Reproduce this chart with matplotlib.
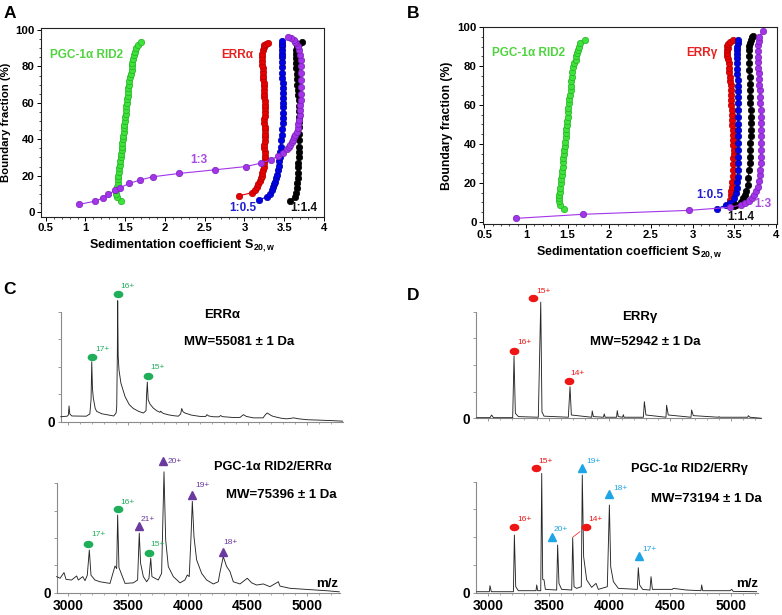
import matplotlib
matplotlib.use('Agg')
import matplotlib.pyplot as plt
import numpy as np
from matplotlib.ticker import MultipleLocator

plt.rcParams['font.family'] = ['Liberation Sans', 'DejaVu Sans']
plt.rcParams['mathtext.default'] = 'regular'

# ---------------- DATA ----------------
# Panel A (ERRalpha) sedimentation distributions
a_green_x = [1.443,1.40,1.385,1.39,1.40,1.405,1.41,1.415,1.42,1.425,1.435,1.44,1.445,1.45,1.455,1.46,1.465,1.47,1.475,1.48,1.485,1.49,1.495,1.50,1.505,1.51,1.515,1.52,1.525,1.53,1.535,1.54,1.545,1.55,1.56,1.575,1.58,1.585,1.59,1.60,1.61,1.62,1.636,1.66,1.70]
a_green_y = [6.2,8.1,10,12,14,16,18,20,22,24,26,28,30,32,34,36,38,40,42,44,46,48,50,52,54,56,58,60,62,64,66,68,70,72,74,76,78,80,82,84,86,88,90,91.8,93.6]

a_red_x = [2.935,3.09,3.13,3.154,3.175,3.19,3.204,3.215,3.225,3.237,3.245,3.25,3.255,3.258,3.255,3.25,3.25,3.252,3.255,3.258,3.258,3.255,3.25,3.25,3.252,3.255,3.258,3.258,3.255,3.25,3.248,3.246,3.243,3.24,3.238,3.237,3.235,3.23,3.225,3.222,3.222,3.225,3.23,3.24,3.25,3.27,3.30]
a_red_y = [9.0,10.6,12.3,13.9,15.5,17,18.5,20,21.5,23,25,27,29,31,33,35,37,39,41,43,45,47,49,51,53,55,57,59,61,63,65,67,69,71,73,75,77,79,81,83,85,87,89,90.5,91.8,92.5,93]

a_blue_x = [3.18,3.28,3.315,3.343,3.36,3.372,3.384,3.395,3.405,3.418,3.428,3.438,3.447,3.452,3.456,3.46,3.466,3.472,3.48,3.483,3.486,3.489,3.489,3.487,3.485,3.482,3.48,3.477,3.473,3.47,3.468,3.468,3.47,3.47,3.472,3.476,3.476]
a_blue_y = [6.6,8.4,10.2,12.1,13.7,15.2,16.7,18.5,20.3,23,25.5,28,30.4,33,36,39.6,42.5,45.5,48.7,51.5,54.5,57.5,59.7,62.5,65.5,68,70.7,73.5,76.5,79.8,82.5,85,87,89,91,92.5,94]

a_black_x = [3.573,3.636,3.652,3.66,3.665,3.67,3.674,3.678,3.678,3.682,3.684,3.686,3.686,3.688,3.69,3.69,3.69,3.688,3.685,3.68,3.676,3.67,3.665,3.66,3.655,3.65,3.648,3.645,3.645,3.645,3.66,3.69,3.72]
a_black_y = [6.2,8.4,10.5,13,15.8,18.5,21.5,24.5,26.8,30,33,36,39.6,43,46.5,49.5,52.4,55.5,58.5,61.5,64.5,67,70,73,76,79,81.7,84.5,87,89,91,92.5,93.6]

a_purple_x = [0.918,1.12,1.224,1.287,1.37,1.44,1.55,1.684,1.85,2.174,2.626,3.015,3.21,3.337,3.42,3.49,3.533,3.555,3.575,3.595,3.61,3.625,3.64,3.655,3.667,3.676,3.684,3.692,3.70,3.703,3.705,3.709,3.713,3.714,3.713,3.71,3.705,3.697,3.684,3.668,3.65,3.635,3.617,3.585,3.546]
a_purple_y = [4.2,6.0,7.9,9.7,11.9,13.5,15.7,17.6,19.4,21.2,23.2,25,26.9,28.7,30.9,32.7,34.7,35.8,36.9,38.3,39.7,41,42.4,44.2,46,48.3,50.6,53.3,56,58.8,61.6,65,68.9,72.5,76.2,80,83.5,86.3,89,91,92.7,93.6,94.5,95.4,96.3]

# Panel B (ERRgamma) sedimentation distributions
b_green_x = [1.46,1.408,1.40,1.40,1.40,1.405,1.41,1.417,1.422,1.428,1.434,1.44,1.445,1.45,1.455,1.46,1.465,1.47,1.475,1.48,1.485,1.49,1.495,1.50,1.505,1.51,1.516,1.52,1.53,1.537,1.54,1.545,1.549,1.552,1.56,1.58,1.60,1.605,1.609,1.62,1.636,1.648,1.708]
b_green_y = [6.7,8.6,10.5,12.3,13.7,15.5,17.5,19.7,21.8,24,26,28.3,30.5,32.7,34.8,36.9,39,41.2,43.3,45.5,47.6,49.8,52,54,56.3,58.5,60.9,63,65.3,67.7,70,72.3,74.6,77,79.7,81.5,83.2,85,86.6,88.3,90,91.8,93.5]

b_red_x = [3.44,3.452,3.46,3.465,3.468,3.475,3.48,3.484,3.488,3.49,3.492,3.492,3.49,3.486,3.483,3.48,3.478,3.475,3.472,3.468,3.466,3.464,3.462,3.46,3.456,3.452,3.448,3.443,3.438,3.432,3.425,3.418,3.412,3.408,3.42,3.41,3.42,3.452,3.48]
b_red_y = [8.6,11.1,13.5,16,18,20.5,23.5,26.6,29.5,32.5,35,36.9,39.5,42,44.7,47.2,49.7,52.2,55,57.5,60,62.5,65,67.8,70.5,72.5,74.6,77,79.3,81.5,83.5,85,86.6,88.3,89.5,90.5,91.5,92.6,93.5]

b_blue_x = [3.288,3.40,3.45,3.48,3.50,3.52,3.53,3.535,3.54,3.544,3.546,3.548,3.548,3.548,3.548,3.548,3.546,3.544,3.542,3.54,3.54,3.54,3.54,3.54,3.537,3.535,3.532,3.532,3.532,3.532,3.535,3.54,3.548]
b_blue_y = [6.5,8.6,9.5,10.3,12.3,14.6,17.5,20.3,23.2,26.5,30,33.4,37,40.5,44,47.2,50.5,54,57.5,60.9,64,67,70,72.9,75.8,78.6,81.5,84,86.2,88.3,90,91.8,93.5]

b_black_x = [3.50,3.52,3.58,3.61,3.628,3.645,3.66,3.67,3.68,3.686,3.69,3.692,3.695,3.698,3.70,3.70,3.698,3.696,3.694,3.692,3.69,3.688,3.684,3.68,3.678,3.675,3.672,3.675,3.685,3.70,3.715,3.728]
b_black_y = [8.2,8.6,10.3,12,13.7,16,18.9,22.5,26.6,30,33.5,36.9,40.5,44,47.2,50.6,54,57.5,61,64.3,67.5,71,74.5,78,81.5,85,88.3,90.5,92,93.5,94.8,95.5]

b_purple_x = [0.88,1.688,2.952,3.452,3.58,3.63,3.672,3.71,3.74,3.765,3.788,3.80,3.808,3.812,3.816,3.818,3.82,3.82,3.82,3.82,3.82,3.818,3.816,3.815,3.812,3.808,3.802,3.796,3.792,3.788,3.784,3.78,3.782,3.788,3.792,3.80,3.848]
b_purple_y = [1.7,3.8,5.8,7.4,8.6,9.7,10.8,12.3,13.7,15.8,18,21,23.8,26.6,30,33.5,36.9,40.5,44,47.2,50.6,54,57.5,61,64.3,67.5,70.5,73.5,76.3,79,82,84.9,87.8,90.9,93,95.2,98.1]

sed_xticks = [0.5, 1, 1.5, 2, 2.5, 3, 3.5, 4]
sed_xticklabels = ['0.5', '1', '1.5', '2', '2.5', '3', '3.5', '4']
sed_yticks = [0, 20, 40, 60, 80, 100]

# Mass spectra (m/z, relative intensity)
c_top_mz = [2936,2990,3000,3006,3012,3030,3150,3180,3190,3196,3202,3209,3225,3237,3280,3321,3380,3400,3405,3410,3413,3417,3424,3440,3475,3510,3544,3590,3628,3650,3655,3661,3668,3683,3710,3739,3767,3772,3795,3840,3878,3920,3940,3949,3960,3976,4030,4102,4150,4160,4175,4213,4260,4275,4290,4381,4437,4455,4465,4490,4548,4630,4650,4665,4700,4716,4780,4828,4870,4884,4930,5000,5107,5200,5295]
c_top_int = [4.5,5.0,6,14.3,7,5.2,5.0,7,20,54.5,30,21.5,12,9.4,7.2,6.4,5.2,8,14,60,110,60,47,35,22.7,15.5,12,9.3,7.9,10,25,36,20,16.1,12.5,10,8.5,9.5,7.5,6.2,5.5,5,7,12,9,7.9,6,4.8,4.8,6.4,5.2,4.5,4.4,5.6,4.6,3.8,3.9,5.5,6.4,4.8,3.5,3.5,6.5,7.9,5.5,4.8,3.2,2.6,3.2,3.5,2.6,1.8,1.4,1.0,0.5]

c_bot_mz = [2903,2931,2964,2981,3028,3070,3084,3121,3140,3159,3176,3190,3223,3265,3349,3391,3405,3413,3424,3438,3475,3544,3580,3594,3605,3628,3656,3675,3690,3700,3753,3781,3801,3815,3837,3879,3935,3976,3996,4012,4026,4038,4052,4074,4116,4158,4213,4255,4269,4297,4325,4353,4381,4437,4498,4535,4576,4632,4688,4758,4772,4856,4995,5162,5268]
c_bot_int = [14.7,13.2,18.4,12.2,11.6,15.3,11.6,14.7,11,16,39,16,11.6,10,8.5,24.4,22,71,23,19,8.5,9,11.6,54.5,27,14.7,10,13.2,31.5,14.7,11.6,17.7,110.5,48.3,23.9,14.7,9,11.6,16.2,14.7,48,83.5,51,30,17.7,11.6,8,10,18.4,33,24,19.4,10,8,13.2,9,7,8,5.5,10,6,4,3,1.8,0.8]

d_top_mz = [2907,3016,3030,3044,3203,3214,3225,3250,3414,3434,3444,3461,3661,3675,3686,3853,3858,3867,3950,3957,3964,4058,4064,4072,4108,4114,4120,4279,4287,4300,4465,4470,4484,4671,4676,4690,4896,4901,4907,5138,5143,5156,5252]
d_top_int = [0.6,0.6,3.1,0.6,0.6,58.4,4.7,1.6,1,109,6,2,1,29.6,3.1,1,6.9,1.6,1,4.1,1,1,7.2,1.6,1,3.4,1,1,15.6,3.1,1,12.2,3.1,1,7.8,2.5,1,1.6,1,1,2.5,1,0]

d_bot_mz = [2907,3011,3016,3027,3209,3217,3228,3250,3395,3401,3409,3434,3442,3450,3461,3472,3565,3573,3584,3606,3689,3697,3708,3730,3768,3776,3787,3812,3853,3889,3908,3982,3999,4010,4032,4073,4229,4237,4248,4273,4333,4342,4353,4517,4525,4635,4753,4759,4767,4992,5006,5019,5211]
d_bot_int = [0.9,0.9,6.3,0.9,0.9,52,5.4,1.8,1.8,7,1.8,1.8,107.5,12,11.6,3,2.4,43,8.4,3,2.4,49.5,5.4,3.9,5.4,106,32.5,11.6,4.8,8.4,3,5.4,79,23.4,10,3.9,3,22.5,7,3,2.4,14.4,3,3,3.9,2.4,1.8,7,1.8,1.8,3,1.2,0.9]

spec_xticks = [3000, 3500, 4000, 4500, 5000]

# Charge-state annotations: m/z, marker height, label, ion kind
c_top_ann_mz = [3413, 3201, 3669]
c_top_ann_y = [116, 58.5, 41.5]
c_top_ann_lab = ['16+', '17+', '15+']
c_top_ann_kind = ['free', 'free', 'free']

c_bot_ann_mz = [3167, 3413, 3594, 3675, 3795, 4033, 4292]
c_bot_ann_y = [44.7, 76.8, 61.2, 36.1, 120.2, 89.6, 37.6]
c_bot_ann_lab = ['17+', '16+', '21+', '15+', '20+', '19+', '18+']
c_bot_ann_kind = ['free', 'free', 'cplx', 'free', 'cplx', 'cplx', 'cplx']

d_top_ann_mz = [3368, 3214, 3667]
d_top_ann_y = [113.1, 63.1, 35]
d_top_ann_lab = ['15+', '16+', '14+']
d_top_ann_kind = ['free', 'free', 'free']

d_bot_ann_mz = [3216, 3393, 3524, 3804, 3776, 3996, 4243]
d_bot_ann_y = [58.9, 112, 50.5, 58.9, 112, 88.6, 33]
d_bot_ann_lab = ['16+', '15+', '20+', '14+', '19+', '18+', '17+']
d_bot_ann_kind = ['free', 'free', 'cplx', 'free', 'cplx', 'cplx', 'cplx']

# ---------------- LAYOUT / STYLE ----------------
W, H = 782, 615
fig = plt.figure(figsize=(W / 100, H / 100), dpi=100)


def add_ax(l, t, r, b):
    return fig.add_axes([l / W, 1 - b / H, (r - l) / W, (b - t) / H])


def ftext(px, py, s, **kw):
    kw.setdefault('ha', 'center')
    kw.setdefault('va', 'center')
    fig.text(px / W, 1 - py / H, s, **kw)


GREEN = '#3ee23a'; GREEN_E = '#22b022'
RED = '#e80000'; RED_E = '#b00000'
BLUE = '#0000e6'; BLUE_E = '#0000a0'
BLACK = '#000000'; BLACK_E = '#000000'
PURPLE = '#a334ea'; PURPLE_E = '#7a22b8'


def sed_panel(ax, series, xlim, ylim, ylab_size):
    for x, y, fc, ec in series:
        ax.plot(x, y, '-', color=fc, lw=0.8, marker='o', ms=4.6,
                mfc=fc, mec=ec, mew=0.5, zorder=3)
    ax.set_xlim(*xlim)
    ax.set_ylim(*ylim)
    ax.set_xticks(sed_xticks)
    ax.set_xticklabels(sed_xticklabels, fontweight='bold', fontsize=8.2)
    ax.set_yticks(sed_yticks)
    ax.set_yticklabels([str(v) for v in sed_yticks], fontweight='bold', fontsize=8.2)
    ax.xaxis.set_minor_locator(MultipleLocator(0.1))
    ax.yaxis.set_minor_locator(MultipleLocator(5))
    ax.tick_params(which='major', direction='out', length=2.8, width=0.7, pad=1.5)
    ax.tick_params(which='minor', direction='out', length=1.4, width=0.5)
    for s in ax.spines.values():
        s.set_linewidth(0.8)
        s.set_color('#222222')
    ax.set_xlabel('Sedimentation coefficient S$_{20,w}$', fontweight='bold',
                  fontsize=9, labelpad=3)
    ax.set_ylabel('Boundary fraction (%)', fontweight='bold', fontsize=ylab_size,
                  labelpad=3)


axA = add_ax(40.7, 28, 324, 217)
sed_panel(axA, [(a_green_x, a_green_y, GREEN, GREEN_E),
                (a_red_x, a_red_y, RED, RED_E),
                (a_blue_x, a_blue_y, BLUE, BLUE_E),
                (a_black_x, a_black_y, BLACK, BLACK_E),
                (a_purple_x, a_purple_y, PURPLE, PURPLE_E)],
          (0.437, 4.0), (-2.7, 101.1), 8.2)

axB = add_ax(482.7, 26.7, 776.7, 224)
sed_panel(axB, [(b_green_x, b_green_y, GREEN, GREEN_E),
                (b_red_x, b_red_y, RED, RED_E),
                (b_blue_x, b_blue_y, BLUE, BLUE_E),
                (b_black_x, b_black_y, BLACK, BLACK_E),
                (b_purple_x, b_purple_y, PURPLE, PURPLE_E)],
          (0.48, 4.01), (-1.2, 100.3), 8.8)

# panel A/B labels
lab_kw = dict(fontweight='bold', fontsize=8.5)
ftext(86.3, 55, 'PGC-1α RID2', color='#4fd43f', **lab_kw)
ftext(237.5, 55, 'ERRα', color='#e82020', **lab_kw)
ftext(199, 160, '1:3', color='#a64ce0', **lab_kw)
ftext(243.3, 208, '1:0.5', color='#2020d0', **lab_kw)
ftext(303.3, 208, '1:1.4', color='#111111', **lab_kw)

ftext(529, 53.3, 'PGC-1α RID2', color='#4fd43f', **lab_kw)
ftext(701.5, 53.3, 'ERRγ', color='#e82020', **lab_kw)
ftext(710, 195, '1:0.5', color='#2020d0', **lab_kw)
ftext(741, 216.7, '1:1.4', color='#111111', **lab_kw)
ftext(762.7, 204, '1:3', color='#a64ce0', **lab_kw)

# panel letters
for px, py, s in [(10, 13, 'A'), (413, 13, 'B'), (10, 290, 'C'), (413, 296, 'D')]:
    ftext(px, py, s, fontweight='bold', fontsize=12.5)

# ---------------- mass spectra ----------------
t = np.linspace(0, 2 * np.pi, 41)
ELLIPSE = np.column_stack([np.cos(t), 0.72 * np.sin(t)])


def spec_panel(ax, mz, inten, xlim, show_labels):
    ax.plot(mz, inten, color='#262626', lw=0.65, clip_on=False, zorder=3)
    ax.set_xlim(*xlim)
    ax.set_ylim(0, 100)
    for s in ['top', 'right']:
        ax.spines[s].set_visible(False)
    for s in ['left', 'bottom']:
        ax.spines[s].set_color('#8a8a8a')
        ax.spines[s].set_linewidth(0.8)
    ax.set_yticks([0, 25, 50, 75, 100])
    ax.set_yticklabels(['0', '', '', '', ''], fontweight='bold', fontsize=9.8)
    ax.set_xticks(spec_xticks)
    ax.xaxis.set_minor_locator(MultipleLocator(100))
    if show_labels:
        ax.set_xticklabels([str(v) for v in spec_xticks], fontweight='bold', fontsize=10)
    else:
        ax.set_xticklabels([])
    ax.tick_params(which='major', direction='out', length=2.2, width=0.6,
                   color='#8a8a8a', pad=2)
    ax.tick_params(which='minor', direction='out', length=1.3, width=0.5,
                   color='#8a8a8a')
    ax.tick_params(axis='y', pad=2)


def annotate_peaks(ax, mzs, ys, labs, kinds, offsets, free_color, cplx_color):
    for m, y, lab, k, (dx, dy) in zip(mzs, ys, labs, kinds, offsets):
        col = free_color if k == 'free' else cplx_color
        if k == 'free':
            ax.plot([m], [y], ls='none', marker=ELLIPSE, ms=6.0, color=col,
                    mec=col, clip_on=False, zorder=5)
        else:
            ax.plot([m], [y], ls='none', marker='^', ms=5.8, color=col,
                    mec=col, clip_on=False, zorder=5)
        ax.annotate(lab, (m, y), xytext=(dx * 0.72, -dy * 0.72),
                    textcoords='offset points', fontsize=6, color=col,
                    ha='left', va='center', annotation_clip=False, zorder=6)


C_GREEN = '#1fae5a'
C_PURPLE = '#6b3a9e'
D_RED = '#ee1515'
D_BLUE = '#1ea5e6'

axCt = add_ax(60.7, 311.7, 343, 421.7)
spec_panel(axCt, c_top_mz, c_top_int, (2936, 5299), False)
annotate_peaks(axCt, c_top_ann_mz, c_top_ann_y, c_top_ann_lab, c_top_ann_kind,
               [(3, -7.3), (3.3, -8), (1.7, -8.3)], C_GREEN, C_PURPLE)

axCb = add_ax(56.7, 483.3, 340, 592.7)
spec_panel(axCb, c_bot_mz, c_bot_int, (2903, 5274), True)
annotate_peaks(axCb, c_bot_ann_mz, c_bot_ann_y, c_bot_ann_lab, c_bot_ann_kind,
               [(3.4, -9), (3, -6.3), (1.4, -6), (1.7, -8.3), (4.4, 0), (3.3, -9), (0.6, -9)],
               C_GREEN, C_PURPLE)

axDt = add_ax(476, 311.7, 760, 418.3)
spec_panel(axDt, d_top_mz, d_top_int, (2901, 5239), False)
annotate_peaks(axDt, d_top_ann_mz, d_top_ann_y, d_top_ann_lab, d_top_ann_kind,
               [(3.3, -6.7), (3.3, -8.7), (1.7, -7.7)], D_RED, D_BLUE)

axDb = add_ax(476, 481.7, 758.3, 592.7)
spec_panel(axDb, d_bot_mz, d_bot_int, (2901, 5225), True)
annotate_peaks(axDb, d_bot_ann_mz, d_bot_ann_y, d_bot_ann_lab, d_bot_ann_kind,
               [(3, -8.3), (2.6, -6.6), (2.3, -6.7), (2.6, -8.3), (4.4, -6.6), (4.3, -6), (3.7, -6.7)],
               D_RED, D_BLUE)
axDb.plot([3697, 3757], [50, 55], color=D_RED, lw=0.5, zorder=4)

# spectra titles
tk = dict(fontweight='bold', fontsize=9.5)
ftext(222, 315, 'ERRα', **tk)
ftext(239, 341.7, 'MW=55081 ± 1 Da', **tk)
ftext(272.5, 466.7, 'PGC-1α RID2/ERRα', fontweight='bold', fontsize=9.2)
ftext(281, 495, 'MW=75396 ± 1 Da', **tk)
ftext(327.5, 584, 'm/z', **tk)

ftext(640, 316.7, 'ERRγ', **tk)
ftext(645, 341.7, 'MW=52942 ± 1 Da', **tk)
ftext(689.7, 469.3, 'PGC-1α RID2/ERRγ', fontweight='bold', fontsize=9.2)
ftext(706.7, 499.3, 'MW=73194 ± 1 Da', **tk)
ftext(746.7, 584, 'm/z', **tk)

fig.savefig('out.png', dpi=100)
